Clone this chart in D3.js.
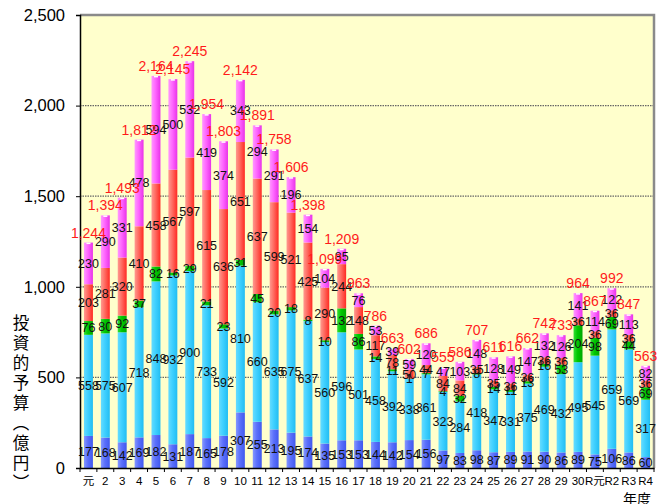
<!DOCTYPE html>
<html>
<head>
<meta charset="utf-8">
<script src="https://cdnjs.cloudflare.com/ajax/libs/d3/7.8.5/d3.min.js"></script>
<style>
  body { margin: 0; background: #fff; }
  svg text { font-family: "Liberation Sans", Arial, sans-serif; }
</style>
</head>
<body>
<div id="chart"></div>
<script>
// ==========================================
// 投資的予算 stacked bars (元 ... R4)
// ==========================================

// 1. DATA (bottom segment first)
const years = ["元", "2", "3", "4", "5", "6", "7", "8", "9", "10",
    "11", "12", "13", "14", "15", "16", "17", "18", "19", "20",
    "21", "22", "23", "24", "25", "26", "27", "28", "29", "30",
    "R元", "R2", "R3", "R4"];

const darkBlue = [177, 168, 142, 169, 182, 131, 187, 165, 178, 307,
    255, 213, 195, 174, 135, 153, 153, 144, 142, 154,
    156, 97, 83, 98, 87, 89, 91, 90, 86, 89,
    75, 106, 86, 60];

const lightBlue = [558, 575, 607, 718, 848, 932, 900, 733, 592, 810,
    660, 635, 675, 637, 560, 596, 501, 458, 392, 338,
    361, 323, 284, 418, 347, 331, 375, 469, 432, 495,
    545, 659, 569, 317];

const green = [76, 80, 92, 37, 82, 16, 29, 21, 23, 31,
    45, 20, 18, 8, 10, 132, 86, 14, 11, 1,
    7, 4, 32, 8, 14, 11, 13, 16, 53, 204,
    98, 69, 44, 69];

const red = [203, 281, 320, 410, 458, 567, 597, 615, 636, 651,
    637, 599, 521, 425, 290, 244, 148, 117, 78, 50,
    44, 84, 84, 35, 35, 36, 36, 36, 36, 36,
    36, 36, 36, 36];

const pink = [230, 290, 331, 478, 594, 500, 532, 419, 374, 343,
    294, 291, 196, 154, 104, 85, 76, 53, 39, 59,
    120, 47, 103, 148, 128, 149, 147, 132, 126, 141,
    114, 122, 113, 82];

const totals = [1244, 1394, 1493, 1812, 2164, 2145, 2245, 1954, 1803, 2142,
    1891, 1758, 1606, 1398, 1099, 1209, 963, 786, 663, 602,
    686, 555, 586, 707, 611, 616, 662, 742, 733, 964,
    867, 992, 847, 563];

const yTicks = [0, 500, 1000, 1500, 2000, 2500];

// 2. SETUP
const W = 671, H = 504;
const plot = { left: 80, right: 654, top: 15, bottom: 468 };

const svg = d3.select("#chart").append("svg")
    .attr("width", W)
    .attr("height", H);

const keys = ["darkBlue", "lightBlue", "green", "red", "pink"];
const table = years.map(function(yr, i) {
    return { year: yr, darkBlue: darkBlue[i], lightBlue: lightBlue[i],
             green: green[i], red: red[i], pink: pink[i], total: totals[i] };
});
const stacked = d3.stack().keys(keys)(table);

const x = d3.scaleBand()
    .domain(years)
    .range([plot.left, plot.right])
    .paddingInner(0.47)
    .paddingOuter(0.235);

const y = d3.scaleLinear()
    .domain([0, 2500])
    .range([plot.bottom, plot.top]);

// gradients, lighter on the left like the old excel bars
const grads = {
    darkBlue: ["#8598ff", "#5b70fb", "#4058ee"],
    lightBlue: ["#66dcff", "#3fd0ff", "#22bdf2"],
    green: ["#33dd33", "#00c800", "#00a800"],
    red: ["#ff9a90", "#ff6a60", "#ff2a22"],
    pink: ["#ff99ff", "#ff66ff", "#e833e8"]
};
const defs = svg.append("defs");
keys.forEach(function(k) {
    const g = defs.append("linearGradient")
        .attr("id", "g-" + k)
        .attr("x1", "0%").attr("x2", "100%")
        .attr("y1", "0%").attr("y2", "0%");
    g.append("stop").attr("offset", "0%").attr("stop-color", grads[k][0]);
    g.append("stop").attr("offset", "45%").attr("stop-color", grads[k][1]);
    g.append("stop").attr("offset", "100%").attr("stop-color", grads[k][2]);
});

// 3. PLOT AREA + GRID
svg.append("rect")
    .attr("x", plot.left)
    .attr("y", plot.top)
    .attr("width", plot.right - plot.left)
    .attr("height", plot.bottom - plot.top)
    .attr("fill", "#ffffcc");

svg.append("g")
    .selectAll("line")
    .data(yTicks.filter(function(t) { return t > 0 && t < 2500; }))
    .join("line")
    .attr("x1", plot.left)
    .attr("x2", plot.right)
    .attr("y1", function(d) { return y(d); })
    .attr("y2", function(d) { return y(d); })
    .attr("stroke", "#666")
    .attr("stroke-width", 1.2)
    .attr("stroke-dasharray", "1.5,1");

// top + right frame in grey
svg.append("path")
    .attr("d", "M" + plot.left + "," + plot.top + "H" + plot.right + "V" + plot.bottom)
    .attr("fill", "none")
    .attr("stroke", "#8a8a8a")
    .attr("stroke-width", 2.5);

// 4. BARS
const layers = svg.append("g")
    .selectAll("g")
    .data(stacked)
    .join("g")
    .attr("fill", function(d) { return "url(#g-" + d.key + ")"; });

layers.selectAll("rect")
    .data(function(d) { return d; })
    .join("rect")
    .attr("x", function(d) { return x(d.data.year); })
    .attr("width", x.bandwidth())
    .attr("y", function(d) { return y(d[1]); })
    .attr("height", function(d) { return y(d[0]) - y(d[1]); });

// little white cap on top of each bar
svg.append("g")
    .selectAll("rect")
    .data(table)
    .join("rect")
    .attr("x", function(d) { return x(d.year) + x.bandwidth() / 2 - 2; })
    .attr("y", function(d) { return y(d3.sum(keys, function(k) { return d[k]; })); })
    .attr("width", 4)
    .attr("height", 1.5)
    .attr("fill", "#fff");

// 5. AXES
const yAxis = svg.append("g")
    .attr("transform", "translate(" + plot.left + ",0)")
    .call(d3.axisLeft(y).tickValues(yTicks).tickFormat(d3.format(",")).tickSize(4).tickPadding(11));
yAxis.select(".domain").attr("stroke", "#000").attr("stroke-width", 1.5);
yAxis.selectAll("text").style("font-size", "16.5px").attr("fill", "#000");

const xAxis = svg.append("g")
    .attr("transform", "translate(0," + plot.bottom + ")")
    .call(d3.axisBottom(x).tickSize(0).tickPadding(9));
xAxis.select(".domain").attr("stroke", "#000").attr("stroke-width", 1.5);
xAxis.selectAll("text")
    .style("font-size", "11.5px")
    .style("font-family", "'Liberation Sans', 'Noto Sans CJK JP', sans-serif")
    .attr("fill", "#000");

// category ticks sit between the bars
svg.append("g")
    .selectAll("line")
    .data(d3.range(years.length + 1))
    .join("line")
    .attr("x1", function(i) { return plot.left + i * x.step(); })
    .attr("x2", function(i) { return plot.left + i * x.step(); })
    .attr("y1", plot.bottom)
    .attr("y2", plot.bottom + 4)
    .attr("stroke", "#000");

// 6. LABELS
// value in the middle of every segment
const segLabels = svg.append("g");
stacked.forEach(function(layer) {
    segLabels.selectAll(null)
        .data(layer)
        .join("text")
        .attr("x", function(d) { return x(d.data.year) + x.bandwidth() / 2; })
        .attr("y", function(d) { return (y(d[0]) + y(d[1])) / 2; })
        .attr("text-anchor", "middle")
        .attr("dy", "0.36em")
        .style("font-size", "12.5px")
        .attr("fill", "#111")
        .text(function(d) { return d[1] - d[0]; });
});

// totals in red above the bars
svg.append("g")
    .selectAll("text")
    .data(table)
    .join("text")
    .attr("x", function(d) { return x(d.year) + x.bandwidth() / 2; })
    .attr("y", function(d) { return y(d3.sum(keys, function(k) { return d[k]; })) - 5; })
    .attr("text-anchor", "middle")
    .style("font-size", "14px")
    .attr("fill", "#ff1a1a")
    .text(function(d) { return d3.format(",")(d.total); });

// axis titles
svg.append("text")
    .attr("x", 21)
    .attr("y", 314)
    .style("writing-mode", "vertical-rl")
    .style("font-family", "'Noto Sans CJK JP', sans-serif")
    .style("font-size", "16.5px")
    .style("letter-spacing", "3.5px")
    .attr("fill", "#000")
    .text("投資的予算（億円）");

svg.append("text")
    .attr("x", 637)
    .attr("y", 504)
    .attr("text-anchor", "middle")
    .style("font-family", "'Noto Sans CJK JP', sans-serif")
    .style("font-size", "14px")
    .attr("fill", "#000")
    .text("年度");
</script>
</body>
</html>
